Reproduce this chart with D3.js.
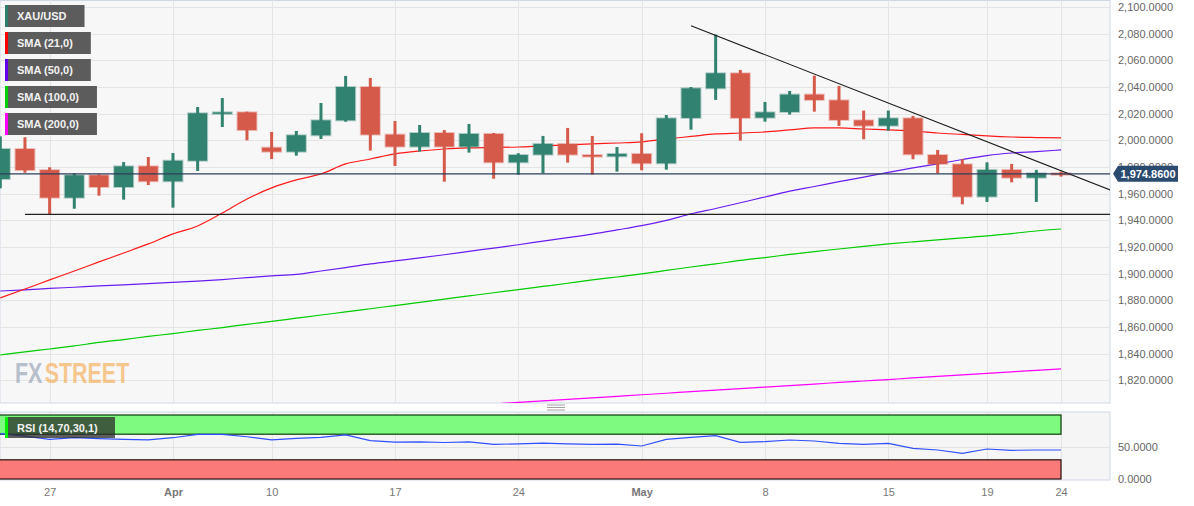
<!DOCTYPE html>
<html><head><meta charset="utf-8">
<script src="https://cdn.jsdelivr.net/npm/d3@7"></script>
<style>body{margin:0;background:#fff;}svg{display:block;font-family:"Liberation Sans",Arial,sans-serif;}</style>
</head><body><svg id="c" width="1194" height="506"></svg>
<script>
const dates = ["Mar 23","Mar 24","Mar 27","Mar 28","Mar 29","Mar 30","Mar 31","Apr 3","Apr 4","Apr 5","Apr 6","Apr 10","Apr 11","Apr 12","Apr 13","Apr 14","Apr 17","Apr 18","Apr 19","Apr 20","Apr 21","Apr 24","Apr 25","Apr 26","Apr 27","Apr 28","May 1","May 2","May 3","May 4","May 5","May 8","May 9","May 10","May 11","May 12","May 15","May 16","May 17","May 18","May 19","May 22","May 23","May 24"];
const open  = [1971,1993.5,1977.7,1957,1973.8,1965,1980.5,1969.3,1984.7,2020.3,2021,1994.5,1991.5,2003.8,2015,2040,2004.3,1995.3,2005.5,1995.3,2004.8,1983.5,1989.3,1997.3,1989,1988,1989.8,1982.8,2016.8,2039,2050.3,2017,2021.3,2034.3,2030,2015,2011,2016.5,1989,1982,1957.8,1977.8,1972,1975.3];
const high  = [2003,2002.3,1979.8,1975.3,1974.5,1983.7,1987.5,1990.5,2025,2031.7,2021.5,2006.3,2007,2028,2048.3,2046.8,2014.5,2011.5,2007.7,2012.3,2005.5,1990.3,2003.3,2009.3,2003.3,1995,2005.3,2019,2040,2079.3,2052.8,2028.8,2037,2048.5,2040.8,2022.3,2022.3,2018.3,1992.8,1985.8,1983.5,1982.3,1977.8,1976.5];
const low   = [1964,1975.7,1944,1948.7,1958.5,1955.5,1966.5,1949.5,1977,2010,2000,1986,1988.5,2001,2014,1992.3,1980.8,1991.5,1969,1990.8,1971.2,1974.3,1975.3,1983.3,1974.3,1976.5,1977.5,1978,2008,2030.3,1999.8,2014,2019.3,2021.5,2010.8,2000.8,2007.3,1985.8,1975.3,1952,1953.8,1968.5,1953.8,1972.8];
const close = [1993.5,1977.7,1957,1973.8,1965,1980.5,1969.3,1984.7,2020.3,2021,2007.7,1991.5,2003.8,2015,2040,2004.3,1995.3,2005.5,1995.3,2004.8,1983.5,1989,1997.3,1989.3,1987.8,1989.8,1982.8,2016.5,2039,2050.3,2016.8,2021,2034.3,2030.3,2015.3,2011,2016.5,1989.5,1982.3,1957.8,1977.8,1972,1975.3,1974.86];
const sma21 = [1881.8,1888.5,1895.3,1902,1908.8,1915.5,1922.3,1929.8,1935.8,1945.5,1956,1964.3,1970.3,1974.8,1982.3,1986,1989.8,1992,1993.5,1994.3,1994.6,1995,1995.8,1996.5,1997.3,1998,1998.8,2001,2002.9,2004.8,2005.5,2006.3,2007.8,2009.3,2009.3,2008.5,2007.8,2007,2005.5,2004.4,2003.3,2002.5,2002.1,2001.8];
const sma50 = [1887,1887.8,1888.9,1889.8,1890.8,1891.6,1892.6,1893.5,1894.4,1895.6,1897,1898.3,1899.5,1902,1904.6,1907.3,1909.6,1911.8,1914.2,1916.7,1919.2,1921.7,1924.4,1927,1929.7,1932.8,1936,1940,1944.8,1948.9,1953.2,1957.5,1961.9,1965.4,1969,1972.4,1976,1979.3,1982.3,1985.6,1988.6,1990.5,1991.6,1992.8];
const sma100 = [1839,1841.3,1843.5,1845.8,1848.4,1850.6,1852.9,1855.1,1857.4,1859.6,1862,1864.2,1866.6,1869,1871.3,1873.7,1876.1,1878.5,1880.9,1883.3,1885.7,1888,1890.4,1892.8,1895.3,1897.5,1899.8,1902.4,1905,1907.3,1909.9,1912.1,1914.4,1916.6,1918.5,1920.4,1922.3,1923.9,1925.4,1926.9,1928.3,1930.1,1932,1933.5];
const sma200 = [1779.3,1780.4,1781.6,1782.8,1783.9,1785.1,1786.2,1787.4,1788.5,1789.7,1790.8,1792,1793.1,1794.3,1795.4,1796.6,1797.7,1798.9,1800,1801.2,1802.3,1803.4,1804.6,1805.7,1806.9,1808,1809.2,1810.3,1811.5,1812.6,1813.8,1814.9,1816.1,1817.2,1818.4,1819.5,1820.6,1821.8,1822.9,1824.1,1825.2,1826.4,1827.5,1828.6];
const rsi = [71,67,62,64.5,63,62,61,64.5,69.8,69.8,66,61,63.5,65,69,60,57.5,58,57,58,54,55,56,55,54,54.5,51.6,62,65,67.7,57.3,58.3,60.9,59.4,55.7,54.2,55.7,48,45.3,40.1,46.9,44.8,45.3,45.3];
const xTickIdx = [2,7,11,16,21,26,31,36,40,43];
const xTickLabels = ["27","Apr","10","17","24","May","8","15","19","24"];
const xTickBold = ["Apr","May"];
const yTicks = [1820,1840,1860,1880,1900,1920,1940,1960,1980,2000,2020,2040,2060,2080,2100];
const rsiTicks = [0,50];
const rsiBands = [{lo:70,hi:100,fill:"#7efa7e",stroke:"#0d3d0d"},{lo:0,hi:30,fill:"#fa7a7a",stroke:"#2a1010"}];
const supportLevel = 1944.5, supportStartIdx = 1;
const trendStart = {i:28, v:2086}, trendEnd = {i:45, v:1962.7};
const lastPrice = 1974.86;
const legendLabels = ["XAU/USD","SMA (21,0)","SMA (50,0)","SMA (100,0)","SMA (200,0)"];
const legendColors = ["#2e7d6b","#ff0000","#6200ea","#00cc00","#ff00ff"];

const svg = d3.select("#c");
const W = 1110, mainTop = 0, mainBot = 403, rsiTop = 412, rsiBot = 480;
const x = d3.scaleLinear().domain([0,43]).range([0.3,1061]);
const y = d3.scaleLinear().domain([1800,2100]).range([407,7]);
const yr = d3.scaleLinear().domain([0,100]).range([479,415]);
const GREEN = "#328270", RED = "#d65a4a";

svg.append("rect").attr("width",1194).attr("height",506).attr("fill","#fff");
const defs = svg.append("defs");
defs.append("clipPath").attr("id","mc").append("rect").attr("x",0).attr("y",mainTop).attr("width",W).attr("height",mainBot-mainTop);
defs.append("clipPath").attr("id","rc").append("rect").attr("x",0).attr("y",rsiTop).attr("width",W).attr("height",rsiBot-rsiTop);

svg.append("rect").attr("x",0).attr("y",mainTop+0.5).attr("width",W).attr("height",mainBot-mainTop-0.5).attr("fill","#f7f7f7").attr("stroke","#cfd7e6");
svg.append("rect").attr("x",0).attr("y",rsiTop).attr("width",W).attr("height",rsiBot-rsiTop).attr("fill","#f5f5f5").attr("stroke","#cfd7e6");

const gm = svg.append("g").attr("clip-path","url(#mc)");
gm.selectAll(".hg").data(yTicks).join("line").attr("x1",0).attr("x2",W).attr("y1",d=>Math.round(y(d))+0.5).attr("y2",d=>Math.round(y(d))+0.5).attr("stroke","#e4e4e4");
gm.selectAll(".vg").data(xTickIdx).join("line").attr("x1",d=>Math.round(x(d))+0.5).attr("x2",d=>Math.round(x(d))+0.5).attr("y1",mainTop).attr("y2",mainBot).attr("stroke","#e4e4e4");

// watermark (horizontally condensed)
const wg = svg.append("g").attr("transform","translate(15,383) scale(0.74,1)").attr("opacity",0.6);
const fx = wg.append("text").attr("x",0).attr("y",0).attr("font-size",29).attr("font-weight","bold").attr("fill","#8d9bb0").text("FX");
const fxw = fx.node().getComputedTextLength();
wg.append("text").attr("x",fxw+3).attr("y",0).attr("font-size",29).attr("font-weight","bold").attr("fill","#f5a84a").text("STREET");

const line = arr => d3.line().x((d,i)=>x(i)).y(d=>y(d)).curve(d3.curveMonotoneX)(arr);
[[sma200,"#ff00ff"],[sma100,"#00cc00"],[sma50,"#6a1cf0"],[sma21,"#ff1a1a"]].forEach(([a,c])=>{
  gm.append("path").attr("d",line(a)).attr("fill","none").attr("stroke",c).attr("stroke-width",1.2);
});

const idx = d3.range(dates.length);
const bw = 19;
gm.selectAll(".wick").data(idx).join("rect")
  .attr("x",i=>x(i)-1.5).attr("width",3)
  .attr("y",i=>y(high[i])).attr("height",i=>Math.max(1,y(low[i])-y(high[i])))
  .attr("fill",i=>close[i]>=open[i]?GREEN:RED);
gm.selectAll(".body").data(idx).join("rect")
  .attr("x",i=>x(i)-bw/2).attr("width",bw)
  .attr("y",i=>y(Math.max(open[i],close[i]))).attr("height",i=>Math.max(1.5,Math.abs(y(open[i])-y(close[i]))))
  .attr("fill",i=>close[i]>=open[i]?GREEN:RED)
  .attr("stroke",i=>close[i]>=open[i]?GREEN:RED).attr("stroke-opacity",0.35).attr("stroke-width",2);

gm.append("line").attr("x1",x(supportStartIdx)).attr("x2",W).attr("y1",y(supportLevel)).attr("y2",y(supportLevel)).attr("stroke","#222").attr("stroke-width",1.2);
gm.append("line").attr("x1",x(trendStart.i)).attr("y1",y(trendStart.v)).attr("x2",x(trendEnd.i)).attr("y2",y(trendEnd.v)).attr("stroke","#1a1a1a").attr("stroke-width",1.1);
gm.append("line").attr("x1",0).attr("x2",W).attr("y1",y(lastPrice)).attr("y2",y(lastPrice)).attr("stroke","#2c3e5c").attr("stroke-width",1.2);

const ya = svg.append("g").attr("transform",`translate(${W},0)`).call(d3.axisRight(y).tickValues(yTicks).tickFormat(d3.format(",.4f")).tickSize(0).tickPadding(8));
ya.select(".domain").remove();
ya.selectAll("text").attr("font-size",11).attr("fill","#666").attr("font-family","'Liberation Sans',Arial");

const py = y(lastPrice);
svg.append("path").attr("d",`M1113,${py} L1118,${py-8} L1178,${py-8} L1178,${py+8} L1118,${py+8} Z`).attr("fill","#2b4a6f");
svg.append("text").attr("x",1148).attr("y",py+4).attr("text-anchor","middle").attr("font-size",11).attr("font-weight","bold").attr("fill","#fff").text(d3.format(",.4f")(lastPrice));

legendLabels.forEach((t,k)=>{
  const g = svg.append("g").attr("transform",`translate(5,${5+k*27})`);
  const r = g.append("rect").attr("height",22).attr("fill","#5c5c5c");
  g.append("rect").attr("width",3).attr("height",22).attr("fill",legendColors[k]);
  const tx = g.append("text").attr("x",12).attr("y",15).attr("font-size",11).attr("font-weight","bold").attr("fill","#f2f2f2").text(t);
  r.attr("width",tx.node().getComputedTextLength()+30);
});

const gr = svg.append("g").attr("clip-path","url(#rc)");
gr.selectAll(".vg").data(xTickIdx).join("line").attr("x1",d=>Math.round(x(d))+0.5).attr("x2",d=>Math.round(x(d))+0.5).attr("y1",rsiTop).attr("y2",rsiBot).attr("stroke","#e4e4e4");
gr.append("line").attr("x1",0).attr("x2",W).attr("y1",Math.round(yr(50))+0.5).attr("y2",Math.round(yr(50))+0.5).attr("stroke","#e2e2e2");
rsiBands.forEach(b=>{
  gr.append("rect").attr("x",-2).attr("width",x(43)+2).attr("y",yr(b.hi)).attr("height",yr(b.lo)-yr(b.hi)).attr("fill",b.fill).attr("stroke",b.stroke).attr("stroke-width",1.2);
});
gr.append("path").attr("d",d3.line().x((d,i)=>x(i)).y(d=>yr(d))(rsi)).attr("fill","none").attr("stroke","#3050ff").attr("stroke-width",1.2);
const rl = svg.append("g").attr("transform","translate(5,417)");
rl.append("rect").attr("width",110).attr("height",21).attr("fill","#2a2a2a").attr("opacity",0.75);
rl.append("rect").attr("width",3).attr("height",21).attr("fill","#00ee00");
rl.append("text").attr("x",12).attr("y",15).attr("font-size",11).attr("font-weight","bold").attr("fill","#f2f2f2").text("RSI (14,70,30,1)");
const ra = svg.append("g").attr("transform",`translate(${W},0)`).call(d3.axisRight(yr).tickValues(rsiTicks).tickFormat(d3.format(".4f")).tickSize(0).tickPadding(8));
ra.select(".domain").remove();
ra.selectAll("text").attr("font-size",11).attr("fill","#666");

[405,407.5,410].forEach(v=>svg.append("line").attr("x1",547).attr("x2",565).attr("y1",v).attr("y2",v).attr("stroke","#8a8a8a").attr("stroke-width",0.8));

const xa = svg.append("g").attr("transform","translate(0,484)").call(d3.axisBottom(x).tickValues(xTickIdx).tickFormat((d,k)=>xTickLabels[k]).tickSize(0).tickPadding(4));
xa.select(".domain").remove();
xa.selectAll("text").attr("font-size",11).attr("fill","#777").attr("font-weight",(d,k)=>xTickBold.includes(xTickLabels[k])?"bold":"normal");
</script></body></html>
